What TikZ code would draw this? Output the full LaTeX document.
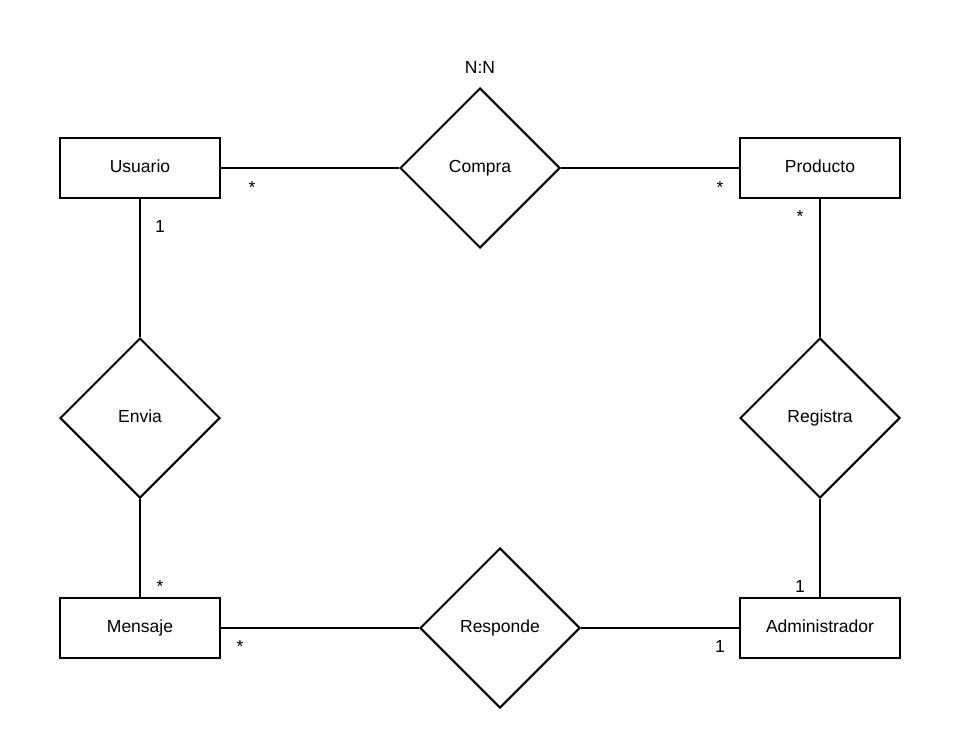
\documentclass[tikz,border=0pt]{standalone}
\usepackage{fontspec}
\setmainfont{Liberation Sans}
\usetikzlibrary{shapes.geometric}
\begin{document}
\begin{tikzpicture}[x=1pt,y=-1pt,
  every node/.style={font=\fontsize{17.5}{20}\selectfont},
  entity/.style={draw,line width=2pt,minimum width=160pt,minimum height=60pt,inner sep=0pt,
    text height=12.5pt,text depth=3.5pt},
  relation/.style={draw,line width=2pt,diamond,minimum width=160pt,minimum height=160pt,inner sep=0pt,
    text height=12.5pt,text depth=3.5pt},
  link/.style={line width=2pt},
  card/.style={inner sep=0pt}]
\useasboundingbox[fill=white] (0,0) rectangle (960,749);
% entities
\node[entity] (usuario) at (140,168) {Usuario};
\node[entity] (producto) at (820,168) {Producto};
\node[entity] (mensaje) at (140,628) {Mensaje};
\node[entity] (admin) at (820,628) {Administrador};
% relationships
\node[relation] (compra) at (480,168) {Compra};
\node[relation] (envia) at (140,418) {Envia};
\node[relation] (registra) at (820,418) {Registra};
\node[relation] (responde) at (500,628) {Responde};
% connectors
\draw[link] (usuario.east) -- (compra.west);
\draw[link] (compra.east) -- (producto.west);
\draw[link] (usuario.south) -- (envia.north);
\draw[link] (envia.south) -- (mensaje.north);
\draw[link] (producto.south) -- (registra.north);
\draw[link] (registra.south) -- (admin.north);
\draw[link] (mensaje.east) -- (responde.west);
\draw[link] (responde.east) -- (admin.west);
% cardinalities
\node[card] (nn) at (480,67) {N:N};
\node[card] (c1) at (252,187) {*};
\node[card] (c2) at (720,187) {*};
\node[card] (c3) at (800,216) {*};
\node[card] (c4) at (160,226) {1};
\node[card] (c5) at (160,586) {*};
\node[card] (c6) at (240,646) {*};
\node[card] (c7) at (720,646) {1};
\node[card] (c8) at (800,586) {1};
\end{tikzpicture}
\end{document}
